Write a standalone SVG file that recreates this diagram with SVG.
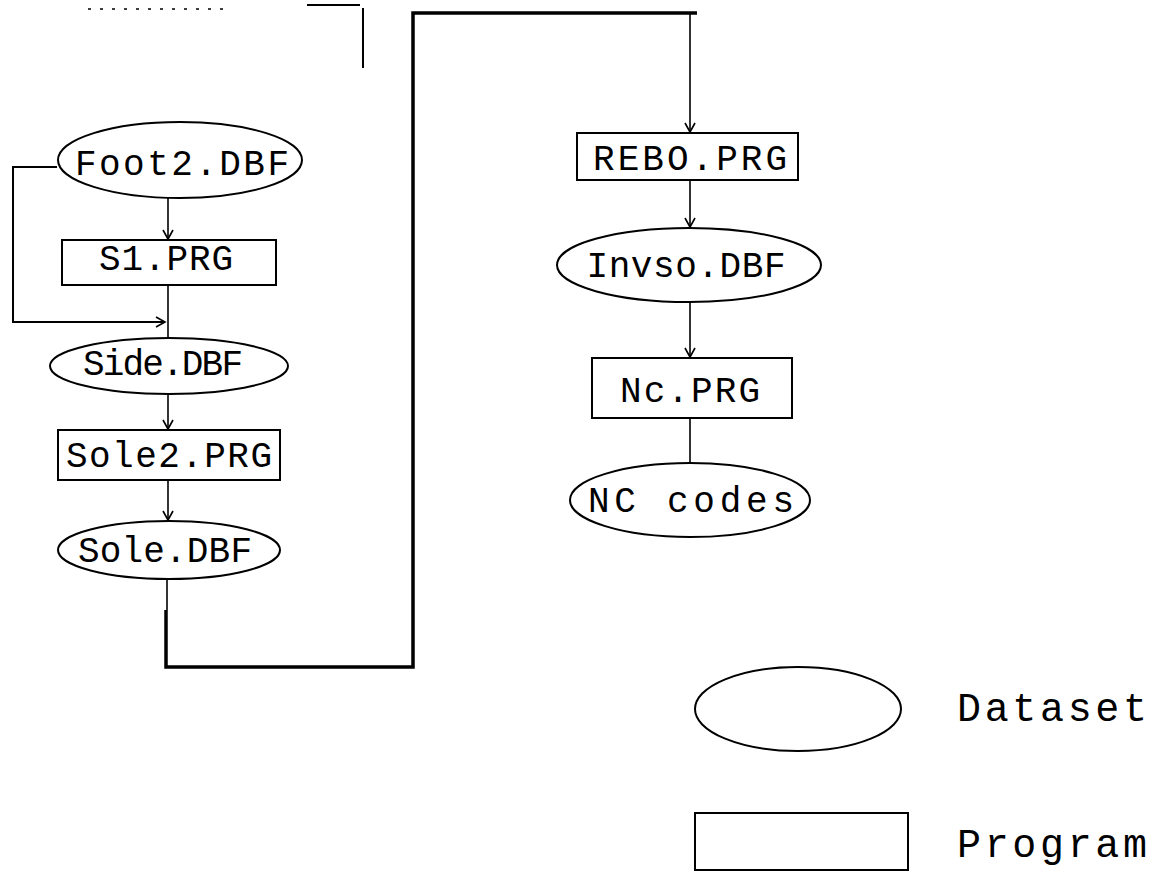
<svg xmlns="http://www.w3.org/2000/svg" width="1166" height="876" viewBox="0 0 1166 876">
<defs>
<style>
.s{fill:none;stroke:#000;stroke-width:2}
.t{fill:none;stroke:#000;stroke-width:1.6}
.k{fill:none;stroke:#000;stroke-width:3.5}
.n{fill:#fff;stroke:#000;stroke-width:2}
.l{font-family:"Liberation Mono","DejaVu Sans Mono",monospace;font-size:36px;fill:#000;text-anchor:middle}
.g{font-family:"Liberation Mono","DejaVu Sans Mono",monospace;font-size:40px;fill:#000}
</style>
<marker id="a" markerWidth="12" markerHeight="12" refX="10" refY="6" orient="auto" markerUnits="userSpaceOnUse">
<path d="M1,1 L10,6 L1,11" fill="none" stroke="#000" stroke-width="1.6"/>
</marker>
</defs>
<rect width="1166" height="876" fill="#fff"/>
<g id="fragments">
<path d="M88,9 H228" stroke="#000" stroke-width="1.5" stroke-dasharray="3,9"/>
<path d="M307,5 H360" class="s"/>
<path d="M363,8 V68" class="s"/>
</g>
<g id="connectors">
<path d="M57,167 H13 V322 H165" class="s" marker-end="url(#a)"/>
<path d="M168,198 V239" class="t" marker-end="url(#a)"/>
<path d="M168,285 V338" class="t"/>
<path d="M168,395 V429" class="t" marker-end="url(#a)"/>
<path d="M168,480 V520" class="t" marker-end="url(#a)"/>
<path d="M167,579 V610" class="t"/>
<path d="M166,610 V667 H413 V13 H697" class="k"/>
<path d="M690,13 V132" class="t" marker-end="url(#a)"/>
<path d="M690,180 V227" class="t" marker-end="url(#a)"/>
<path d="M690,302 V357" class="t" marker-end="url(#a)"/>
<path d="M690,418 V463" class="t"/>
</g>
<g id="foot2">
<ellipse cx="180" cy="160" rx="122" ry="38" class="n"/>
<text x="182" y="175" class="l" textLength="214" lengthAdjust="spacing">Foot2.DBF</text>
</g>
<g id="s1">
<rect x="62" y="240" width="214" height="45" class="n"/>
<text x="166" y="270" class="l" textLength="134" lengthAdjust="spacing">S1.PRG</text>
</g>
<g id="side">
<ellipse cx="169" cy="366" rx="119" ry="28" class="n"/>
<text x="163" y="375" class="l" textLength="160" lengthAdjust="spacing">Side.DBF</text>
</g>
<g id="sole2">
<rect x="58" y="430" width="222" height="50" class="n"/>
<text x="169" y="467" class="l" textLength="206" lengthAdjust="spacing">Sole2.PRG</text>
</g>
<g id="sole">
<ellipse cx="169" cy="550" rx="111" ry="29" class="n"/>
<text x="165" y="562" class="l" textLength="174" lengthAdjust="spacing">Sole.DBF</text>
</g>
<g id="rebo">
<rect x="577" y="133" width="221" height="47" class="n"/>
<text x="690" y="170" class="l" textLength="194" lengthAdjust="spacing">REBO.PRG</text>
</g>
<g id="invso">
<ellipse cx="689" cy="265" rx="132" ry="37" class="n"/>
<text x="686" y="277" class="l" textLength="199" lengthAdjust="spacing">Invso.DBF</text>
</g>
<g id="nc">
<rect x="592" y="358" width="200" height="60" class="n"/>
<text x="690" y="402" class="l" textLength="140" lengthAdjust="spacing">Nc.PRG</text>
</g>
<g id="nccodes">
<ellipse cx="690" cy="500" rx="120" ry="37" class="n"/>
<text x="691" y="512" class="l" textLength="206" lengthAdjust="spacing">NC codes</text>
</g>
<g id="legend-dataset">
<ellipse cx="798" cy="709" rx="103" ry="42" class="n"/>
<text x="957" y="721" class="g" textLength="190" lengthAdjust="spacing">Dataset</text>
</g>
<g id="legend-program">
<rect x="695" y="813" width="213" height="57" class="n"/>
<text x="957" y="857" class="g" textLength="190" lengthAdjust="spacing">Program</text>
</g>
</svg>
